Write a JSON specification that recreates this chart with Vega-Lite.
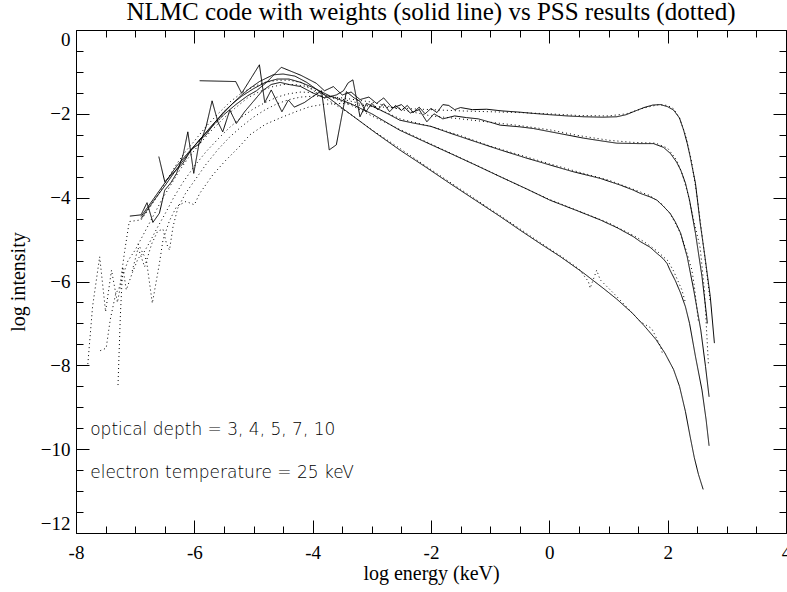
{
  "$schema": "https://vega.github.io/schema/vega-lite/v6.json",
  "width": 710,
  "height": 503,
  "autosize": {"type": "none"},
  "padding": {"left": 76, "top": 30, "right": 1, "bottom": 59},
  "background": "white",
  "config": {
    "view": {"stroke": "black", "strokeWidth": 1},
    "font": "Liberation Serif",
    "axis": {"domain": false, "grid": false, "tickColor": "black", "labelColor": "black", "titleColor": "black", "tickWidth": 1}
  },
  "title": {
    "text": "NLMC code with weights (solid line) vs PSS results (dotted)",
    "font": "Liberation Serif",
    "fontSize": 25,
    "fontWeight": "normal",
    "color": "black",
    "anchor": "middle",
    "baseline": "top",
    "offset": 5
  },
  "datasets": {
    "curves": [
      {"c":"S3","x":-6.9,"y":-4.45},{"c":"S3","x":-6.7,"y":-4.05},{"c":"S3","x":-6.5,"y":-3.65},{"c":"S3","x":-6.3,"y":-3.25},{"c":"S3","x":-6.1,"y":-2.92},{"c":"S3","x":-5.91,"y":-2.62},{"c":"S3","x":-5.7,"y":-2.27},{"c":"S3","x":-5.5,"y":-1.97},{"c":"S3","x":-5.35,"y":-1.75},{"c":"S3","x":-5.2,"y":-1.55},{"c":"S3","x":-5.06,"y":-1.39},{"c":"S3","x":-4.9,"y":-1.23},{"c":"S3","x":-4.67,"y":-1.07},{"c":"S3","x":-4.5,"y":-1.05},{"c":"S3","x":-4.3,"y":-1.1},{"c":"S3","x":-4.1,"y":-1.25},{"c":"S3","x":-3.9,"y":-1.45},{"c":"S3","x":-3.7,"y":-1.65},{"c":"S3","x":-3.37,"y":-2.0},{"c":"S3","x":-2.95,"y":-2.44},{"c":"S3","x":-2.53,"y":-2.86},{"c":"S3","x":-2.1,"y":-3.26},{"c":"S3","x":-1.68,"y":-3.66},{"c":"S3","x":-1.25,"y":-4.06},{"c":"S3","x":-0.83,"y":-4.45},{"c":"S3","x":-0.5,"y":-4.77},{"c":"S3","x":-0.16,"y":-5.09},{"c":"S3","x":0.19,"y":-5.41},{"c":"S3","x":0.58,"y":-5.8},{"c":"S3","x":0.91,"y":-6.16},{"c":"S3","x":1.14,"y":-6.42},{"c":"S3","x":1.4,"y":-6.75},{"c":"S3","x":1.6,"y":-7.05},{"c":"S3","x":1.8,"y":-7.38},{"c":"S3","x":1.95,"y":-7.7},{"c":"S3","x":2.1,"y":-8.1},{"c":"S3","x":2.2,"y":-8.5},{"c":"S3","x":2.3,"y":-9.1},{"c":"S3","x":2.38,"y":-9.7},{"c":"S3","x":2.45,"y":-10.2},{"c":"S3","x":2.52,"y":-10.6},{"c":"S3","x":2.6,"y":-10.96},
      {"c":"S4","x":-7.09,"y":-4.44},{"c":"S4","x":-6.9,"y":-4.41},{"c":"S4","x":-6.8,"y":-4.12},{"c":"S4","x":-6.7,"y":-4.59},{"c":"S4","x":-6.59,"y":-4.37},{"c":"S4","x":-6.5,"y":-3.82},{"c":"S4","x":-6.4,"y":-3.65},{"c":"S4","x":-6.3,"y":-3.42},{"c":"S4","x":-6.19,"y":-2.98},{"c":"S4","x":-6.11,"y":-2.43},{"c":"S4","x":-6.01,"y":-3.42},{"c":"S4","x":-5.91,"y":-2.62},{"c":"S4","x":-5.8,"y":-2.5},{"c":"S4","x":-5.65,"y":-2.2},{"c":"S4","x":-5.5,"y":-1.95},{"c":"S4","x":-5.35,"y":-1.75},{"c":"S4","x":-5.2,"y":-1.58},{"c":"S4","x":-5.0,"y":-1.4},{"c":"S4","x":-4.8,"y":-1.25},{"c":"S4","x":-4.6,"y":-1.17},{"c":"S4","x":-4.4,"y":-1.17},{"c":"S4","x":-4.2,"y":-1.25},{"c":"S4","x":-4.0,"y":-1.37},{"c":"S4","x":-3.7,"y":-1.58},{"c":"S4","x":-3.37,"y":-1.75},{"c":"S4","x":-3.0,"y":-2.0},{"c":"S4","x":-2.53,"y":-2.39},{"c":"S4","x":-2.1,"y":-2.67},{"c":"S4","x":-1.68,"y":-2.94},{"c":"S4","x":-1.25,"y":-3.22},{"c":"S4","x":-0.83,"y":-3.5},{"c":"S4","x":-0.4,"y":-3.78},{"c":"S4","x":0.01,"y":-4.06},{"c":"S4","x":0.45,"y":-4.3},{"c":"S4","x":0.86,"y":-4.53},{"c":"S4","x":1.15,"y":-4.72},{"c":"S4","x":1.42,"y":-4.93},{"c":"S4","x":1.54,"y":-5.05},{"c":"S4","x":1.7,"y":-5.18},{"c":"S4","x":1.82,"y":-5.33},{"c":"S4","x":1.92,"y":-5.45},{"c":"S4","x":1.99,"y":-5.57},{"c":"S4","x":2.04,"y":-5.73},{"c":"S4","x":2.13,"y":-5.98},{"c":"S4","x":2.22,"y":-6.28},{"c":"S4","x":2.3,"y":-6.6},{"c":"S4","x":2.37,"y":-7.0},{"c":"S4","x":2.47,"y":-7.79},{"c":"S4","x":2.58,"y":-8.59},{"c":"S4","x":2.65,"y":-9.3},{"c":"S4","x":2.7,"y":-9.92},
      {"c":"S5","x":-6.6,"y":-3.02},{"c":"S5","x":-6.5,"y":-3.62},{"c":"S5","x":-6.35,"y":-3.4},{"c":"S5","x":-6.2,"y":-3.2},{"c":"S5","x":-6.05,"y":-2.85},{"c":"S5","x":-5.9,"y":-2.7},{"c":"S5","x":-5.8,"y":-2.3},{"c":"S5","x":-5.7,"y":-1.69},{"c":"S5","x":-5.6,"y":-2.2},{"c":"S5","x":-5.52,"y":-2.43},{"c":"S5","x":-5.4,"y":-1.91},{"c":"S5","x":-5.29,"y":-2.23},{"c":"S5","x":-5.15,"y":-1.95},{"c":"S5","x":-5.0,"y":-1.7},{"c":"S5","x":-4.85,"y":-1.45},{"c":"S5","x":-4.7,"y":-1.3},{"c":"S5","x":-4.55,"y":-1.25},{"c":"S5","x":-4.4,"y":-1.3},{"c":"S5","x":-4.2,"y":-1.35},{"c":"S5","x":-4.0,"y":-1.5},{"c":"S5","x":-3.8,"y":-1.62},{"c":"S5","x":-3.6,"y":-1.55},{"c":"S5","x":-3.48,"y":-1.45},{"c":"S5","x":-3.4,"y":-1.26},{"c":"S5","x":-3.32,"y":-1.19},{"c":"S5","x":-3.2,"y":-2.07},{"c":"S5","x":-3.09,"y":-1.75},{"c":"S5","x":-2.9,"y":-1.88},{"c":"S5","x":-2.7,"y":-2.02},{"c":"S5","x":-2.53,"y":-2.15},{"c":"S5","x":-2.3,"y":-2.22},{"c":"S5","x":-2.0,"y":-2.3},{"c":"S5","x":-1.68,"y":-2.46},{"c":"S5","x":-1.3,"y":-2.64},{"c":"S5","x":-0.83,"y":-2.86},{"c":"S5","x":-0.4,"y":-3.05},{"c":"S5","x":0.01,"y":-3.22},{"c":"S5","x":0.4,"y":-3.38},{"c":"S5","x":0.86,"y":-3.54},{"c":"S5","x":1.2,"y":-3.7},{"c":"S5","x":1.42,"y":-3.82},{"c":"S5","x":1.54,"y":-3.9},{"c":"S5","x":1.7,"y":-3.98},{"c":"S5","x":1.82,"y":-4.06},{"c":"S5","x":1.93,"y":-4.21},{"c":"S5","x":2.04,"y":-4.37},{"c":"S5","x":2.13,"y":-4.58},{"c":"S5","x":2.22,"y":-4.85},{"c":"S5","x":2.33,"y":-5.41},{"c":"S5","x":2.44,"y":-6.2},{"c":"S5","x":2.56,"y":-7.16},{"c":"S5","x":2.64,"y":-8.03},{"c":"S5","x":2.7,"y":-8.75},
      {"c":"S7","x":-6.9,"y":-4.5},{"c":"S7","x":-6.7,"y":-4.1},{"c":"S7","x":-6.5,"y":-3.72},{"c":"S7","x":-6.3,"y":-3.32},{"c":"S7","x":-6.1,"y":-2.95},{"c":"S7","x":-5.9,"y":-2.6},{"c":"S7","x":-5.7,"y":-2.3},{"c":"S7","x":-5.5,"y":-2.02},{"c":"S7","x":-5.3,"y":-1.78},{"c":"S7","x":-5.1,"y":-1.57},{"c":"S7","x":-4.95,"y":-1.45},{"c":"S7","x":-4.78,"y":-1.25},{"c":"S7","x":-4.53,"y":-0.89},{"c":"S7","x":-4.2,"y":-1.08},{"c":"S7","x":-3.94,"y":-1.27},{"c":"S7","x":-3.8,"y":-1.45},{"c":"S7","x":-3.65,"y":-1.35},{"c":"S7","x":-3.5,"y":-1.55},{"c":"S7","x":-3.35,"y":-1.48},{"c":"S7","x":-3.2,"y":-1.66},{"c":"S7","x":-3.05,"y":-1.6},{"c":"S7","x":-2.92,"y":-1.75},{"c":"S7","x":-2.8,"y":-1.62},{"c":"S7","x":-2.65,"y":-1.86},{"c":"S7","x":-2.5,"y":-1.78},{"c":"S7","x":-2.35,"y":-1.98},{"c":"S7","x":-2.2,"y":-1.9},{"c":"S7","x":-2.07,"y":-2.19},{"c":"S7","x":-1.95,"y":-2.0},{"c":"S7","x":-1.8,"y":-2.12},{"c":"S7","x":-1.6,"y":-2.05},{"c":"S7","x":-1.4,"y":-2.09},{"c":"S7","x":-1.2,"y":-2.12},{"c":"S7","x":-1.0,"y":-2.2},{"c":"S7","x":-0.83,"y":-2.27},{"c":"S7","x":-0.5,"y":-2.31},{"c":"S7","x":-0.27,"y":-2.35},{"c":"S7","x":0.1,"y":-2.45},{"c":"S7","x":0.58,"y":-2.58},{"c":"S7","x":0.9,"y":-2.65},{"c":"S7","x":1.14,"y":-2.7},{"c":"S7","x":1.5,"y":-2.71},{"c":"S7","x":1.76,"y":-2.71},{"c":"S7","x":1.93,"y":-2.8},{"c":"S7","x":2.05,"y":-2.95},{"c":"S7","x":2.15,"y":-3.15},{"c":"S7","x":2.22,"y":-3.34},{"c":"S7","x":2.3,"y":-3.65},{"c":"S7","x":2.37,"y":-4.06},{"c":"S7","x":2.47,"y":-4.85},{"c":"S7","x":2.58,"y":-5.88},{"c":"S7","x":2.66,"y":-6.84},{"c":"S7","x":2.67,"y":-7.0},
      {"c":"S10","x":-5.91,"y":-1.21},{"c":"S10","x":-5.3,"y":-1.23},{"c":"S10","x":-5.2,"y":-1.51},{"c":"S10","x":-4.9,"y":-0.83},{"c":"S10","x":-4.81,"y":-1.73},{"c":"S10","x":-4.7,"y":-1.43},{"c":"S10","x":-4.52,"y":-1.95},{"c":"S10","x":-4.41,"y":-1.67},{"c":"S10","x":-4.31,"y":-1.84},{"c":"S10","x":-4.14,"y":-1.73},{"c":"S10","x":-4.0,"y":-1.59},{"c":"S10","x":-3.85,"y":-1.45},{"c":"S10","x":-3.72,"y":-2.86},{"c":"S10","x":-3.6,"y":-2.74},{"c":"S10","x":-3.43,"y":-1.47},{"c":"S10","x":-3.3,"y":-1.62},{"c":"S10","x":-3.2,"y":-1.7},{"c":"S10","x":-3.1,"y":-1.95},{"c":"S10","x":-3.0,"y":-1.75},{"c":"S10","x":-2.9,"y":-1.9},{"c":"S10","x":-2.8,"y":-1.76},{"c":"S10","x":-2.7,"y":-1.95},{"c":"S10","x":-2.6,"y":-1.8},{"c":"S10","x":-2.5,"y":-1.92},{"c":"S10","x":-2.4,"y":-1.8},{"c":"S10","x":-2.3,"y":-1.97},{"c":"S10","x":-2.2,"y":-1.84},{"c":"S10","x":-2.1,"y":-2.0},{"c":"S10","x":-2.0,"y":-1.87},{"c":"S10","x":-1.9,"y":-1.97},{"c":"S10","x":-1.8,"y":-1.78},{"c":"S10","x":-1.7,"y":-1.8},{"c":"S10","x":-1.6,"y":-1.9},{"c":"S10","x":-1.5,"y":-1.85},{"c":"S10","x":-1.3,"y":-1.9},{"c":"S10","x":-1.06,"y":-1.89},{"c":"S10","x":-0.8,"y":-1.93},{"c":"S10","x":-0.5,"y":-1.96},{"c":"S10","x":-0.27,"y":-1.99},{"c":"S10","x":0.0,"y":-2.02},{"c":"S10","x":0.3,"y":-2.05},{"c":"S10","x":0.58,"y":-2.07},{"c":"S10","x":0.9,"y":-2.08},{"c":"S10","x":1.14,"y":-2.07},{"c":"S10","x":1.3,"y":-2.02},{"c":"S10","x":1.42,"y":-1.95},{"c":"S10","x":1.6,"y":-1.85},{"c":"S10","x":1.75,"y":-1.79},{"c":"S10","x":1.88,"y":-1.78},{"c":"S10","x":2.0,"y":-1.83},{"c":"S10","x":2.1,"y":-1.91},{"c":"S10","x":2.2,"y":-2.1},{"c":"S10","x":2.27,"y":-2.39},{"c":"S10","x":2.33,"y":-2.7},{"c":"S10","x":2.38,"y":-3.02},{"c":"S10","x":2.47,"y":-3.66},{"c":"S10","x":2.55,"y":-4.61},{"c":"S10","x":2.63,"y":-5.41},{"c":"S10","x":2.72,"y":-6.36},{"c":"S10","x":2.79,"y":-7.47},
      {"c":"D3","x":-7.59,"y":-7.65},{"c":"D3","x":-7.49,"y":-7.59},{"c":"D3","x":-7.42,"y":-6.9},{"c":"D3","x":-7.33,"y":-6.3},{"c":"D3","x":-7.26,"y":-6.12},{"c":"D3","x":-7.18,"y":-5.3},{"c":"D3","x":-7.1,"y":-4.57},{"c":"D3","x":-6.9,"y":-4.53},{"c":"D3","x":-6.78,"y":-4.3},{"c":"D3","x":-6.62,"y":-3.95},{"c":"D3","x":-6.45,"y":-3.55},{"c":"D3","x":-6.3,"y":-3.2},{"c":"D3","x":-6.15,"y":-2.9},{"c":"D3","x":-6.0,"y":-2.65},{"c":"D3","x":-5.8,"y":-2.3},{"c":"D3","x":-5.6,"y":-2.0},{"c":"D3","x":-5.4,"y":-1.72},{"c":"D3","x":-5.2,"y":-1.5},{"c":"D3","x":-5.0,"y":-1.35},{"c":"D3","x":-4.8,"y":-1.25},{"c":"D3","x":-4.6,"y":-1.2},{"c":"D3","x":-4.4,"y":-1.2},{"c":"D3","x":-4.2,"y":-1.25},{"c":"D3","x":-3.8,"y":-1.62},{"c":"D3","x":-3.37,"y":-2.0},{"c":"D3","x":-3.0,"y":-2.38},{"c":"D3","x":-2.5,"y":-2.85},{"c":"D3","x":-2.0,"y":-3.33},{"c":"D3","x":-1.5,"y":-3.8},{"c":"D3","x":-1.0,"y":-4.27},{"c":"D3","x":-0.5,"y":-4.74},{"c":"D3","x":-0.21,"y":-5.02},{"c":"D3","x":0.2,"y":-5.4},{"c":"D3","x":0.5,"y":-5.7},{"c":"D3","x":0.66,"y":-6.0},{"c":"D3","x":0.69,"y":-6.16},{"c":"D3","x":0.8,"y":-5.73},{"c":"D3","x":0.86,"y":-5.96},{"c":"D3","x":1.1,"y":-6.3},{"c":"D3","x":1.3,"y":-6.6},{"c":"D3","x":1.54,"y":-6.96},{"c":"D3","x":1.73,"y":-7.12},{"c":"D3","x":1.88,"y":-7.55},{"c":"D3","x":1.91,"y":-7.71},
      {"c":"D4","x":-7.8,"y":-7.97},{"c":"D4","x":-7.72,"y":-6.6},{"c":"D4","x":-7.6,"y":-5.41},{"c":"D4","x":-7.5,"y":-6.72},{"c":"D4","x":-7.4,"y":-5.73},{"c":"D4","x":-7.3,"y":-6.5},{"c":"D4","x":-7.22,"y":-5.9},{"c":"D4","x":-7.12,"y":-5.5},{"c":"D4","x":-7.0,"y":-5.25},{"c":"D4","x":-6.85,"y":-4.85},{"c":"D4","x":-6.7,"y":-4.45},{"c":"D4","x":-6.55,"y":-4.05},{"c":"D4","x":-6.4,"y":-3.7},{"c":"D4","x":-6.25,"y":-3.35},{"c":"D4","x":-6.1,"y":-3.05},{"c":"D4","x":-5.9,"y":-2.7},{"c":"D4","x":-5.7,"y":-2.38},{"c":"D4","x":-5.5,"y":-2.1},{"c":"D4","x":-5.3,"y":-1.85},{"c":"D4","x":-5.1,"y":-1.62},{"c":"D4","x":-4.9,"y":-1.47},{"c":"D4","x":-4.7,"y":-1.36},{"c":"D4","x":-4.5,"y":-1.3},{"c":"D4","x":-4.3,"y":-1.3},{"c":"D4","x":-4.1,"y":-1.35},{"c":"D4","x":-3.7,"y":-1.6},{"c":"D4","x":-3.37,"y":-1.78},{"c":"D4","x":-3.0,"y":-2.05},{"c":"D4","x":-2.53,"y":-2.37},{"c":"D4","x":-2.0,"y":-2.72},{"c":"D4","x":-1.5,"y":-3.05},{"c":"D4","x":-1.0,"y":-3.38},{"c":"D4","x":-0.5,"y":-3.72},{"c":"D4","x":0.0,"y":-4.04},{"c":"D4","x":0.5,"y":-4.32},{"c":"D4","x":1.0,"y":-4.6},{"c":"D4","x":1.42,"y":-4.9},{"c":"D4","x":1.6,"y":-5.05},{"c":"D4","x":1.8,"y":-5.25},{"c":"D4","x":2.0,"y":-5.5},{"c":"D4","x":2.1,"y":-5.75},{"c":"D4","x":2.24,"y":-6.2},{"c":"D4","x":2.3,"y":-6.5},
      {"c":"D5","x":-7.29,"y":-8.47},{"c":"D5","x":-7.25,"y":-6.8},{"c":"D5","x":-7.21,"y":-5.65},{"c":"D5","x":-7.15,"y":-6.2},{"c":"D5","x":-7.05,"y":-5.8},{"c":"D5","x":-6.95,"y":-5.45},{"c":"D5","x":-6.85,"y":-5.3},{"c":"D5","x":-6.75,"y":-5.05},{"c":"D5","x":-6.62,"y":-4.7},{"c":"D5","x":-6.5,"y":-4.4},{"c":"D5","x":-6.35,"y":-4.0},{"c":"D5","x":-6.2,"y":-3.65},{"c":"D5","x":-6.0,"y":-3.25},{"c":"D5","x":-5.8,"y":-2.9},{"c":"D5","x":-5.6,"y":-2.6},{"c":"D5","x":-5.4,"y":-2.32},{"c":"D5","x":-5.2,"y":-2.08},{"c":"D5","x":-5.0,"y":-1.88},{"c":"D5","x":-4.8,"y":-1.73},{"c":"D5","x":-4.6,"y":-1.6},{"c":"D5","x":-4.4,"y":-1.52},{"c":"D5","x":-4.2,"y":-1.48},{"c":"D5","x":-3.9,"y":-1.5},{"c":"D5","x":-3.5,"y":-1.65},{"c":"D5","x":-3.0,"y":-1.82},{"c":"D5","x":-2.5,"y":-2.13},{"c":"D5","x":-2.0,"y":-2.3},{"c":"D5","x":-1.5,"y":-2.52},{"c":"D5","x":-1.0,"y":-2.77},{"c":"D5","x":-0.5,"y":-2.98},{"c":"D5","x":0.0,"y":-3.19},{"c":"D5","x":0.5,"y":-3.39},{"c":"D5","x":1.0,"y":-3.58},{"c":"D5","x":1.4,"y":-3.79},{"c":"D5","x":1.7,"y":-3.95},{"c":"D5","x":1.9,"y":-4.15},{"c":"D5","x":2.05,"y":-4.4},{"c":"D5","x":2.2,"y":-4.8},{"c":"D5","x":2.3,"y":-5.2},{"c":"D5","x":2.41,"y":-5.73},{"c":"D5","x":2.45,"y":-6.1},{"c":"D5","x":2.52,"y":-6.96},
      {"c":"D7","x":-7.05,"y":-5.75},{"c":"D7","x":-6.95,"y":-5.2},{"c":"D7","x":-6.84,"y":-5.65},{"c":"D7","x":-6.72,"y":-5.1},{"c":"D7","x":-6.62,"y":-4.8},{"c":"D7","x":-6.53,"y":-4.75},{"c":"D7","x":-6.47,"y":-5.1},{"c":"D7","x":-6.42,"y":-5.25},{"c":"D7","x":-6.36,"y":-4.69},{"c":"D7","x":-6.28,"y":-4.25},{"c":"D7","x":-6.15,"y":-3.9},{"c":"D7","x":-6.0,"y":-3.6},{"c":"D7","x":-5.8,"y":-3.2},{"c":"D7","x":-5.6,"y":-2.85},{"c":"D7","x":-5.4,"y":-2.55},{"c":"D7","x":-5.2,"y":-2.3},{"c":"D7","x":-5.0,"y":-2.08},{"c":"D7","x":-4.8,"y":-1.9},{"c":"D7","x":-4.6,"y":-1.76},{"c":"D7","x":-4.4,"y":-1.66},{"c":"D7","x":-4.2,"y":-1.6},{"c":"D7","x":-4.0,"y":-1.58},{"c":"D7","x":-3.8,"y":-1.58},{"c":"D7","x":-3.5,"y":-1.62},{"c":"D7","x":-3.0,"y":-1.72},{"c":"D7","x":-2.5,"y":-1.9},{"c":"D7","x":-2.0,"y":-2.05},{"c":"D7","x":-1.5,"y":-2.12},{"c":"D7","x":-1.0,"y":-2.2},{"c":"D7","x":-0.5,"y":-2.28},{"c":"D7","x":0.0,"y":-2.38},{"c":"D7","x":0.5,"y":-2.52},{"c":"D7","x":1.0,"y":-2.63},{"c":"D7","x":1.4,"y":-2.68},{"c":"D7","x":1.8,"y":-2.7},{"c":"D7","x":2.0,"y":-2.82},{"c":"D7","x":2.15,"y":-3.1},{"c":"D7","x":2.25,"y":-3.45},{"c":"D7","x":2.35,"y":-3.95},{"c":"D7","x":2.45,"y":-4.6},{"c":"D7","x":2.55,"y":-5.2},{"c":"D7","x":2.62,"y":-6.2},{"c":"D7","x":2.69,"y":-8.0},
      {"c":"D10","x":-6.95,"y":-5.1},{"c":"D10","x":-6.81,"y":-5.49},{"c":"D10","x":-6.71,"y":-6.52},{"c":"D10","x":-6.59,"y":-5.57},{"c":"D10","x":-6.53,"y":-5.01},{"c":"D10","x":-6.42,"y":-4.55},{"c":"D10","x":-6.3,"y":-4.21},{"c":"D10","x":-6.14,"y":-4.09},{"c":"D10","x":-6.0,"y":-4.17},{"c":"D10","x":-5.91,"y":-3.9},{"c":"D10","x":-5.69,"y":-3.46},{"c":"D10","x":-5.49,"y":-3.14},{"c":"D10","x":-5.25,"y":-2.8},{"c":"D10","x":-5.06,"y":-2.5},{"c":"D10","x":-4.8,"y":-2.25},{"c":"D10","x":-4.5,"y":-2.07},{"c":"D10","x":-4.25,"y":-1.93},{"c":"D10","x":-4.05,"y":-1.83},{"c":"D10","x":-3.8,"y":-1.77},{"c":"D10","x":-3.5,"y":-1.75},{"c":"D10","x":-3.0,"y":-1.82},{"c":"D10","x":-2.5,"y":-1.87},{"c":"D10","x":-2.0,"y":-1.9},{"c":"D10","x":-1.5,"y":-1.93},{"c":"D10","x":-1.0,"y":-1.95},{"c":"D10","x":-0.5,"y":-1.97},{"c":"D10","x":0.0,"y":-2.0},{"c":"D10","x":0.5,"y":-2.04},{"c":"D10","x":1.0,"y":-2.05},{"c":"D10","x":1.3,"y":-2.0},{"c":"D10","x":1.6,"y":-1.86},{"c":"D10","x":1.85,"y":-1.78},{"c":"D10","x":2.0,"y":-1.8},{"c":"D10","x":2.1,"y":-1.88},{"c":"D10","x":2.2,"y":-2.1},{"c":"D10","x":2.3,"y":-2.5},{"c":"D10","x":2.4,"y":-3.1},{"c":"D10","x":2.5,"y":-4.0},{"c":"D10","x":2.6,"y":-5.1},{"c":"D10","x":2.68,"y":-6.0},{"c":"D10","x":2.72,"y":-6.5}
    ],
    "notes": [
      {"t": "optical depth = 3, 4, 5, 7, 10", "x": -7.76, "y": -9.54},
      {"t": "electron temperature = 25 keV", "x": -7.76, "y": -10.57}
    ]
  },
  "layer": [
    {
      "data": {"name": "curves"},
      "mark": {"type": "line", "strokeWidth": 1, "color": "black"},
      "encoding": {
        "x": {"field": "x", "type": "quantitative", "scale": {"domain": [-8, 4], "nice": false, "zero": false},
          "axis": {"orient": "bottom", "values": [-8, -6, -4, -2, 0, 2, 4], "tickSize": -13, "labelPadding": 23, "labelFontSize": 19, "labelFont": "Liberation Serif", "labelFlush": false, "labelExpr": "replace(datum.label, '\u2212', '-')", "title": "log energy (keV)", "titleFont": "Liberation Serif", "titleFontSize": 20, "titleFontWeight": "normal", "titleY": 46, "titleBaseline": "alphabetic", "minExtent": 0, "maxExtent": 0}},
        "y": {"field": "y", "type": "quantitative", "scale": {"domain": [-12, 0], "nice": false, "zero": false},
          "axis": {"orient": "left", "values": [-12, -10, -8, -6, -4, -2, 0], "tickSize": -13, "labelPadding": 19, "labelFontSize": 19, "labelFont": "Liberation Serif", "labelFlush": true, "labelFlushOffset": 0, "title": "log intensity", "titleFont": "Liberation Serif", "titleFontSize": 20, "titleFontWeight": "normal", "titleAngle": -90, "titleX": -52, "titleY": 251.5, "titleAlign": "center", "titleBaseline": "alphabetic", "minExtent": 0, "maxExtent": 0}},
        "detail": {"field": "c", "type": "nominal"},
        "strokeDash": {"field": "c", "type": "nominal", "legend": null,
          "scale": {"domain": ["S3", "S4", "S5", "S7", "S10", "D3", "D4", "D5", "D7", "D10"],
                    "range": [[1, 0], [1, 0], [1, 0], [1, 0], [1, 0], [1, 3], [1, 3], [1, 3], [1, 3], [1, 3]]}}
      }
    },
    {
      "data": {"name": "curves"},
      "mark": {"type": "point", "opacity": 0},
      "encoding": {
        "x": {"field": "x", "type": "quantitative", "scale": {"domain": [-8, 4], "nice": false, "zero": false},
          "axis": {"orient": "bottom", "values": [-7.5, -7, -6.5, -5.5, -5, -4.5, -3.5, -3, -2.5, -1.5, -1, -0.5, 0.5, 1, 1.5, 2.5, 3, 3.5], "tickSize": -7, "labels": false, "title": null, "minExtent": 0, "maxExtent": 0}},
        "y": {"field": "y", "type": "quantitative", "scale": {"domain": [-12, 0], "nice": false, "zero": false},
          "axis": {"orient": "left", "values": [-11.5, -11, -10.5, -9.5, -9, -8.5, -7.5, -7, -6.5, -5.5, -5, -4.5, -3.5, -3, -2.5, -1.5, -1, -0.5], "tickSize": -7, "labels": false, "title": null, "minExtent": 0, "maxExtent": 0}}
      }
    },
    {
      "data": {"name": "curves"},
      "mark": {"type": "point", "opacity": 0},
      "encoding": {
        "x": {"field": "x", "type": "quantitative", "scale": {"domain": [-8, 4], "nice": false, "zero": false},
          "axis": {"orient": "top", "values": [-8, -6, -4, -2, 0, 2, 4], "tickSize": -13, "labels": false, "title": null, "minExtent": 0, "maxExtent": 0}},
        "y": {"field": "y", "type": "quantitative", "scale": {"domain": [-12, 0], "nice": false, "zero": false},
          "axis": {"orient": "right", "values": [-12, -10, -8, -6, -4, -2, 0], "tickSize": -13, "labels": false, "title": null, "minExtent": 0, "maxExtent": 0}}
      }
    },
    {
      "data": {"name": "curves"},
      "mark": {"type": "point", "opacity": 0},
      "encoding": {
        "x": {"field": "x", "type": "quantitative", "scale": {"domain": [-8, 4], "nice": false, "zero": false},
          "axis": {"orient": "top", "values": [-7.5, -7, -6.5, -5.5, -5, -4.5, -3.5, -3, -2.5, -1.5, -1, -0.5, 0.5, 1, 1.5, 2.5, 3, 3.5], "tickSize": -7, "labels": false, "title": null, "minExtent": 0, "maxExtent": 0}},
        "y": {"field": "y", "type": "quantitative", "scale": {"domain": [-12, 0], "nice": false, "zero": false},
          "axis": {"orient": "right", "values": [-11.5, -11, -10.5, -9.5, -9, -8.5, -7.5, -7, -6.5, -5.5, -5, -4.5, -3.5, -3, -2.5, -1.5, -1, -0.5], "tickSize": -7, "labels": false, "title": null, "minExtent": 0, "maxExtent": 0}}
      }
    },
    {
      "data": {"name": "notes"},
      "mark": {"type": "text", "align": "left", "baseline": "middle", "font": "DejaVu Sans", "fontWeight": 200, "fontSize": 17, "color": "black"},
      "encoding": {
        "x": {"field": "x", "type": "quantitative", "scale": {"domain": [-8, 4], "nice": false, "zero": false}, "axis": null},
        "y": {"field": "y", "type": "quantitative", "scale": {"domain": [-12, 0], "nice": false, "zero": false}, "axis": null},
        "text": {"field": "t", "type": "nominal"}
      }
    }
  ],
  "resolve": {"axis": {"x": "independent", "y": "independent"}}
}
